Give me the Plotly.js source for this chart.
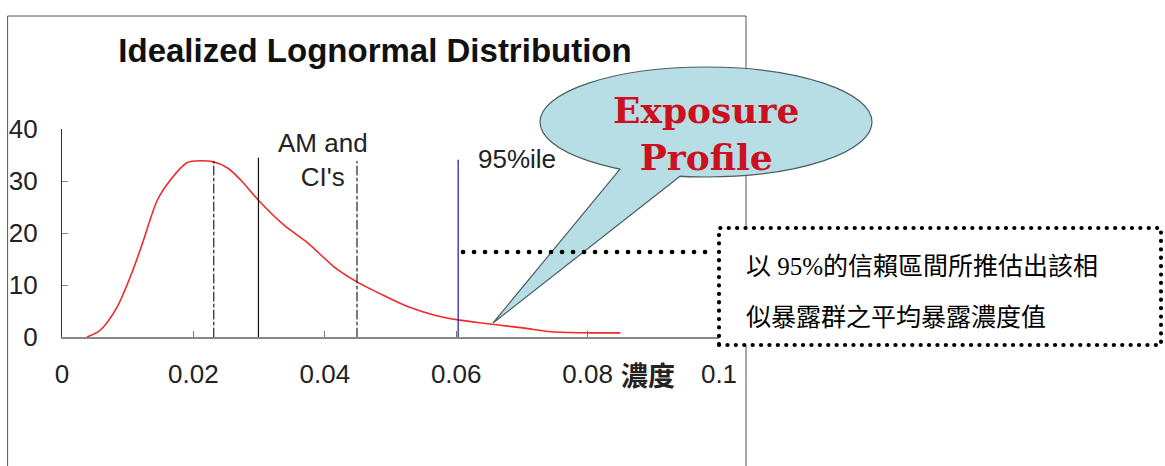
<!DOCTYPE html>
<html>
<head>
<meta charset="utf-8">
<script src="https://cdn.plot.ly/plotly-3.0.1.min.js"></script>
<style>
  html, body { margin: 0; padding: 0; background: #fff; }
  #chart { width: 1165px; height: 466px; }
  .shapelayer path { stroke-linecap: round !important; }
</style>
</head>
<body>
<div id="chart"></div>
<script>
// ---- data ----
const concentration = [0.0038, 0.0058, 0.0084, 0.0108, 0.0124, 0.0145, 0.0165, 0.0190, 0.0198, 0.0226,
                       0.0252, 0.0272, 0.0299, 0.0338, 0.0374, 0.0414, 0.0449, 0.0486, 0.0527, 0.0567,
                       0.0603, 0.0638, 0.0664, 0.0704, 0.0745, 0.0803, 0.0850];
const density = [0, 1.3, 5.8, 12.9, 18.6, 26.3, 30.2, 33.5, 33.8, 33.8,
                 32.5, 30.2, 26.3, 21.5, 18.1, 13.5, 10.6, 8.2, 5.8, 4.2,
                 3.3, 2.7, 2.3, 1.7, 1.0, 0.8, 0.8];
const xTickVals = [0, 0.02, 0.04, 0.06, 0.08, 0.1];
const xTickText = ['0', '0.02', '0.04', '0.06', '0.08', '0.1'];
const yTickVals = [0, 10, 20, 30, 40];
const yTickText = ['0', '10', '20', '30', '40'];
// reference lines: lower CI, AM, upper CI, 95th percentile
const refLineX = [0.0231, 0.0299, 0.0449, 0.0603];
const refLineTop = [33.8, 34.4, 33.8, 34.0];

const titleText = 'Idealized Lognormal Distribution';
const amLabel = 'AM and<br>CI\'s';
const pctLabel = '95%ile';
const xLabel = '濃度';
const calloutText = 'Exposure<br>Profile';
const noteLine1 = '以 95%的信賴區間所推估出該相';
const noteLine2 = '似暴露群之平均暴露濃度值';

// ---- layout helpers (pixel -> paper) ----
const W = 1165, H = 466;
const px = v => v / W;
const py = v => 1 - v / H;

const sans = 'Liberation Sans, Arial, sans-serif';

const trace = {
  x: concentration, y: density, type: 'scatter', mode: 'lines',
  line: { color: '#ee2a2a', width: 1.6, shape: 'spline', smoothing: 0.8 },
  hoverinfo: 'skip'
};

// callout ellipse geometry
const ecx = 706, ecy = 122, erx = 166, ery = 55;
const onEllipse = x => ecy + ery * Math.sqrt(1 - Math.pow((x - ecx) / erx, 2));
const b1 = [620, onEllipse(620)], b2 = [680, onEllipse(680)], tip = [493, 323];
const P = (p) => px(p[0]) + ',' + py(p[1]);

const refStyles = [
  { color: '#111', width: 1.1, dash: 'dashdot' },
  { color: '#111', width: 1.2, dash: 'solid' },
  { color: '#111', width: 1.1, dash: 'dashdot' },
  { color: '#2b2b9e', width: 1.3, dash: 'solid' }
];

const shapes = [];
// reference lines
refLineX.forEach((xv, i) => {
  shapes.push({ type: 'line', xref: 'x', yref: 'y', x0: xv, x1: xv, y0: 0, y1: refLineTop[i],
                line: refStyles[i], layer: 'above' });
});
// outer frame
shapes.push({ type: 'rect', xref: 'paper', yref: 'paper', x0: px(8), x1: px(746), y0: py(520), y1: py(16),
              line: { color: '#555', width: 1 }, fillcolor: 'rgba(0,0,0,0)', layer: 'above' });
// callout ellipse
shapes.push({ type: 'circle', xref: 'paper', yref: 'paper',
              x0: px(ecx - erx), x1: px(ecx + erx), y0: py(ecy + ery), y1: py(ecy - ery),
              fillcolor: 'rgb(183,222,228)', line: { color: '#4d5d63', width: 1.2 }, layer: 'above' });
// callout tail fill (no outline)
shapes.push({ type: 'path', xref: 'paper', yref: 'paper',
              path: 'M' + P(b1) + ' L' + P(tip) + ' L' + P(b2) + ' L' + P([680, 160]) + ' L' + P([620, 158]) + ' Z',
              fillcolor: 'rgb(183,222,228)', line: { width: 0, color: 'rgba(0,0,0,0)' }, layer: 'above' });
// callout tail outline
shapes.push({ type: 'path', xref: 'paper', yref: 'paper',
              path: 'M' + P(b1) + ' L' + P(tip) + ' L' + P(b2),
              line: { color: '#4d5d63', width: 1.2 }, layer: 'above' });
// dotted connector
shapes.push({ type: 'line', xref: 'paper', yref: 'paper', x0: px(463), x1: px(708), y0: py(252), y1: py(252),
              line: { color: '#000', width: 4.6, dash: '0.1px,10.9px' }, layer: 'above' });
// dotted note box
shapes.push({ type: 'rect', xref: 'paper', yref: 'paper', x0: px(719), x1: px(1161), y0: py(345), y1: py(228),
              fillcolor: '#fff', line: { color: '#000', width: 4.2, dash: '0.1px,8.3px' }, layer: 'above' });

const annotations = [
  { text: amLabel, xref: 'paper', yref: 'paper', x: px(323), y: py(160), xanchor: 'center', yanchor: 'middle',
    showarrow: false, font: { family: sans, size: 26, color: '#222' } },
  { text: pctLabel, xref: 'paper', yref: 'paper', x: px(476), y: py(159), xanchor: 'left', yanchor: 'middle',
    showarrow: false, font: { family: sans, size: 26, color: '#222' } },
  { text: xLabel, xref: 'paper', yref: 'paper', x: px(648), y: py(374), xanchor: 'center', yanchor: 'middle',
    showarrow: false, font: { family: 'Noto Sans CJK TC, sans-serif', size: 27, color: '#222', weight: 'bold' } },
  { text: calloutText, xref: 'paper', yref: 'paper', x: px(706), y: py(133), xanchor: 'center', yanchor: 'middle',
    showarrow: false, font: { family: 'DejaVu Serif, serif', size: 36, color: '#cc1020', weight: 'bold' } },
  { text: noteLine1, xref: 'paper', yref: 'paper', x: px(744), y: py(266), xanchor: 'left', yanchor: 'middle',
    showarrow: false, font: { family: 'Liberation Serif, Noto Sans CJK TC, serif', size: 25, color: '#000' } },
  { text: noteLine2, xref: 'paper', yref: 'paper', x: px(744), y: py(317), xanchor: 'left', yanchor: 'middle',
    showarrow: false, font: { family: 'Liberation Serif, Noto Sans CJK TC, serif', size: 25, color: '#000' } }
];

const layout = {
  width: W, height: H,
  margin: { l: 0, r: 0, t: 0, b: 0, pad: 0 },
  paper_bgcolor: '#fff', plot_bgcolor: '#fff',
  showlegend: false,
  title: { text: titleText, x: px(375), xanchor: 'center', xref: 'paper', y: py(50), yanchor: 'middle',
           font: { family: sans, size: 33, color: '#111', weight: 'bold' } },
  xaxis: {
    domain: [px(62), px(719)], range: [0, 0.1], autorange: false, fixedrange: true,
    tickvals: xTickVals, ticktext: xTickText, ticks: 'inside', ticklen: 6, tickcolor: '#777', tickwidth: 1,
    showline: true, linecolor: '#888', linewidth: 1.5, showgrid: false, zeroline: false,
    tickfont: { family: sans, size: 26, color: '#222' }, ticklabelstandoff: 13, automargin: false
  },
  yaxis: {
    domain: [py(337), py(129)], range: [0, 40], autorange: false, fixedrange: true,
    tickvals: yTickVals, ticktext: yTickText, ticks: 'inside', ticklen: 6, tickcolor: '#888', tickwidth: 1,
    showline: true, linecolor: '#333', linewidth: 1.2, showgrid: false, zeroline: false,
    tickfont: { family: sans, size: 26, color: '#222' }, ticklabelstandoff: 18, automargin: false
  },
  shapes: shapes,
  annotations: annotations
};

Plotly.newPlot('chart', [trace], layout, { staticPlot: true, displayModeBar: false });
</script>
</body>
</html>
